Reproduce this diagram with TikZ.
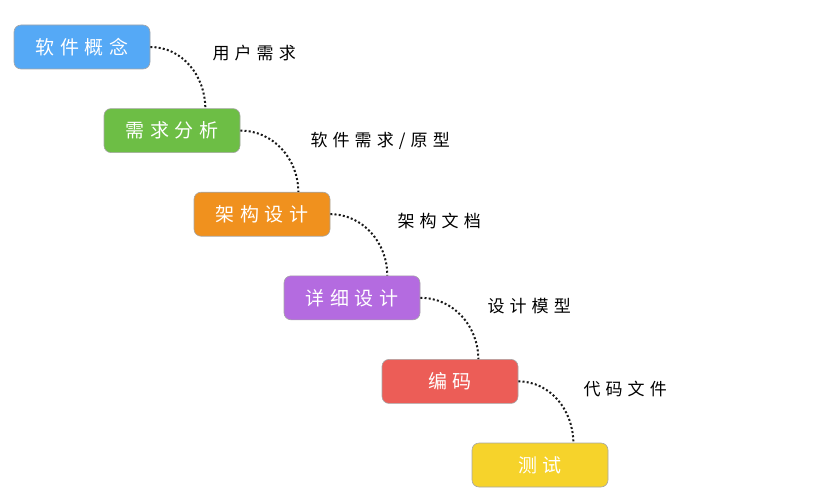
\documentclass[tikz,border=0pt]{standalone}
\usepackage{fontspec}
\usepackage{xcolor}
\usetikzlibrary{positioning}
\newfontfamily\cjk[LetterSpace=30]{Noto Sans CJK SC}
\definecolor{stblue}{HTML}{55A9F6}
\definecolor{stgreen}{HTML}{6DBE45}
\definecolor{storange}{HTML}{F0911E}
\definecolor{stpurple}{HTML}{B46BE0}
\definecolor{stred}{HTML}{EC5D57}
\definecolor{styellow}{HTML}{F6D32B}
\tikzset{
  stage/.style={
    rectangle, rounded corners=7pt, draw=black!35, line width=0.6pt,
    minimum width=136pt, minimum height=44pt,
    text=white, font=\cjk\fontsize{19}{21}\selectfont, inner sep=2pt
  },
  flowlink/.style={dash pattern=on 2pt off 2.2pt, line width=2pt, draw=black!90, out=0, in=90},
  flowlabel/.style={font=\cjk\fontsize{17}{19}\selectfont, text=black, inner sep=0pt},
}

\begin{document}
\begin{tikzpicture}[node distance=39pt]
  \useasboundingbox (0,0) rectangle (818pt,-500pt);
  \node (gn) [stage, fill=stblue] at (82pt,-47pt) {软件概念};
  \node (xq) [stage, fill=stgreen, below=of gn, xshift=90pt]  {需求分析};
  \node (jg) [stage, fill=storange, below=of xq, xshift=90pt] {架构设计};
  \node (xx) [stage, fill=stpurple, below=of jg, xshift=90pt] {详细设计};
  \node (bm) [stage, fill=stred, below=of xx, xshift=98pt]    {编码};
  \node (cs) [stage, fill=styellow, below=of bm, xshift=90pt] {测试};
  \draw[flowlink] (gn.east) to ([xshift=-35pt]xq.north east);
  \draw[flowlink] (xq.east) to ([xshift=-32pt]jg.north east);
  \draw[flowlink] (jg.east) to ([xshift=-33pt]xx.north east);
  \draw[flowlink] (xx.east) to ([xshift=-40pt]bm.north east);
  \draw[flowlink] (bm.east) to ([xshift=-35pt]cs.north east);
  \node (l1) [flowlabel, right=62pt of gn.east, yshift=-6pt] {用户需求};
  \node (l2) [flowlabel, right=70pt of xq.east, yshift=-10pt] {软件需求/原型};
  \node (l3) [flowlabel, right=67pt of jg.east, yshift=-7pt] {架构文档};
  \node (l4) [flowlabel, right=67pt of xx.east, yshift=-8pt] {设计模型};
  \node (l5) [flowlabel, right=65pt of bm.east, yshift=-8pt] {代码文件};
\end{tikzpicture}
\end{document}
